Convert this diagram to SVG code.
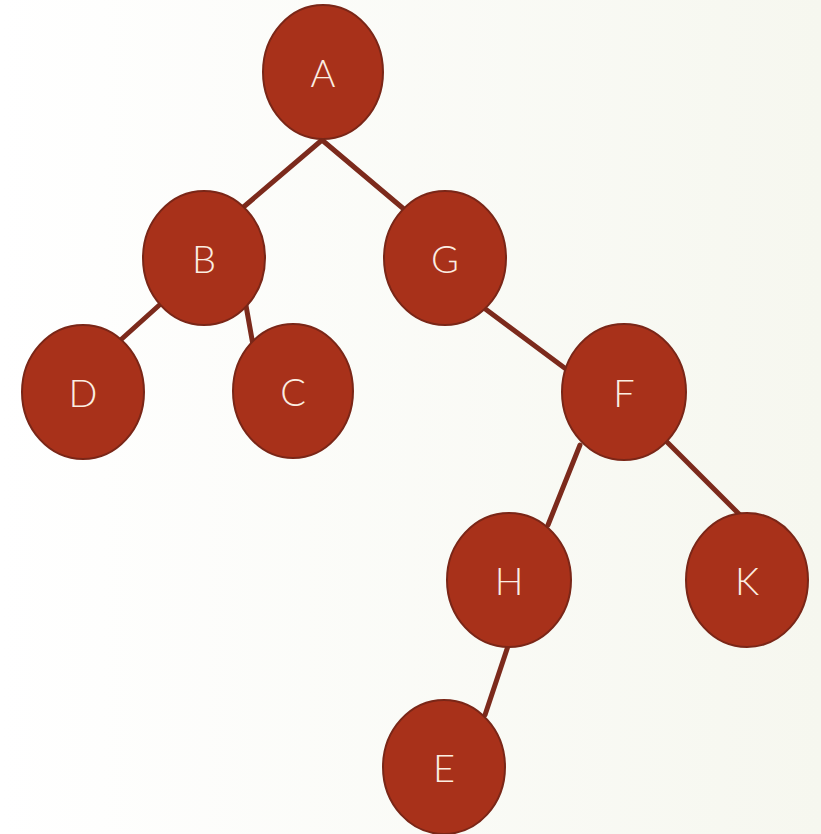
<svg xmlns="http://www.w3.org/2000/svg" width="821" height="834" viewBox="0 0 821 834">
  <defs>
    <linearGradient id="bg" x1="0" y1="0" x2="1" y2="0">
      <stop offset="0" stop-color="#ffffff"/>
      <stop offset="1" stop-color="#f6f7ef"/>
    </linearGradient>
  </defs>
  <style>
    .edge { stroke: #7c2a1c; stroke-width: 5; stroke-linecap: round; fill: none; }
    .node ellipse { fill: #a8311a; stroke: #7a2617; stroke-width: 2; }
    .node text { fill: #fbeee2; font-family: "Lato", "Open Sans", "Liberation Sans", sans-serif; font-weight: 300; font-size: 38px; text-anchor: middle; dominant-baseline: central; }
  </style>
  <rect width="821" height="834" fill="url(#bg)"/>

  <g id="connectors">
    <line class="edge" x1="322" y1="140" x2="240" y2="210"/>
    <line class="edge" x1="322" y1="140" x2="405" y2="210"/>
    <line class="edge" x1="165" y1="300" x2="115" y2="345"/>
    <line class="edge" x1="245" y1="300" x2="253" y2="345"/>
    <line class="edge" x1="480" y1="305" x2="570" y2="372"/>
    <line class="edge" x1="580" y1="445" x2="548" y2="525"/>
    <line class="edge" x1="665" y1="440" x2="745" y2="520"/>
    <line class="edge" x1="510" y1="640" x2="485" y2="715"/>
  </g>

  <g id="node-A" class="node"><ellipse cx="323" cy="72" rx="60" ry="67"/><text x="323" y="72">A</text></g>
  <g id="node-B" class="node"><ellipse cx="204" cy="258" rx="61" ry="67"/><text x="204" y="258">B</text></g>
  <g id="node-G" class="node"><ellipse cx="445" cy="258" rx="61" ry="67"/><text x="445" y="258">G</text></g>
  <g id="node-D" class="node"><ellipse cx="83" cy="392" rx="61" ry="67"/><text x="83" y="392">D</text></g>
  <g id="node-C" class="node"><ellipse cx="293" cy="391" rx="60" ry="67"/><text x="293" y="391">C</text></g>
  <g id="node-F" class="node"><ellipse cx="624" cy="392" rx="62" ry="68"/><text x="624" y="392">F</text></g>
  <g id="node-H" class="node"><ellipse cx="509" cy="580" rx="62" ry="67"/><text x="509" y="580">H</text></g>
  <g id="node-K" class="node"><ellipse cx="747" cy="580" rx="61" ry="67"/><text x="747" y="580">K</text></g>
  <g id="node-E" class="node"><ellipse cx="444" cy="767" rx="61" ry="67"/><text x="444" y="767">E</text></g>
</svg>
